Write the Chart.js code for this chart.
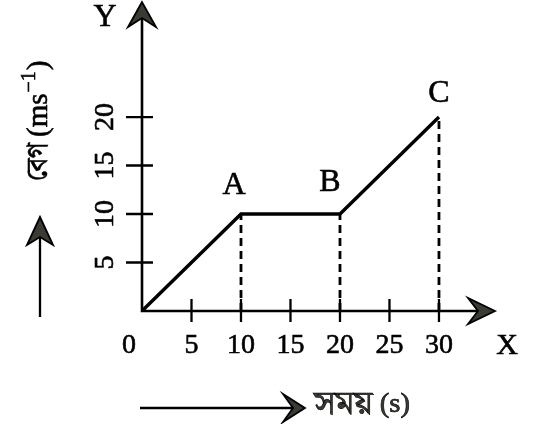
<!DOCTYPE html>
<html>
<head>
<meta charset="utf-8">
<script src="https://cdn.jsdelivr.net/npm/chart.js@4.4.1/dist/chart.umd.min.js"></script>
<style>
html,body{margin:0;padding:0;background:#fff;}
canvas{display:block;}
</style>
</head>
<body>
<canvas id="c" width="547" height="424"></canvas>
<script>
// ---- data ----
const times = [0, 10, 20, 30];
const velocities = [0, 10, 10, 20];
const pointNames = ['', 'A', 'B', 'C'];
const dashedIdx = [1, 2, 3];
const xTickValues = [0, 5, 10, 15, 20, 25, 30];
const yTickValues = [5, 10, 15, 20];
const xAxisName = 'X';
const yAxisName = 'Y';
const yTitleWord = 'বেগ';
const yTitleUnit = ['(ms', '−1', ')'];
const xTitleParts = ['সময়', ' (s)'];

const SERIF = '"Liberation Serif","DejaVu Serif",serif';
const BN = '"Liberation Serif","Noto Serif Bengali","Noto Sans Bengali","Lohit Bengali","FreeSerif",serif';

function arrowHead(ctx, tipX, tipY, dir, len, half, notch) {
  ctx.beginPath();
  if (dir === 'up') {
    ctx.moveTo(tipX, tipY);
    ctx.lineTo(tipX - half, tipY + len);
    ctx.lineTo(tipX, tipY + notch);
    ctx.lineTo(tipX + half, tipY + len);
  } else {
    ctx.moveTo(tipX, tipY);
    ctx.lineTo(tipX - len, tipY - half);
    ctx.lineTo(tipX - notch, tipY);
    ctx.lineTo(tipX - len, tipY + half);
  }
  ctx.closePath();
  ctx.fillStyle = '#3b3b34';
  ctx.fill();
  ctx.lineWidth = 1.8;
  ctx.strokeStyle = '#000';
  ctx.lineJoin = 'miter';
  ctx.stroke();
}

function boldText(ctx, txt, x, y) {
  ctx.fillText(txt, x, y);
  ctx.strokeText(txt, x, y);
}

function twoPart(ctx, parts, x, y, bnSize, latSize) {
  ctx.textAlign = 'left';
  ctx.font = bnSize + 'px ' + BN;
  boldText(ctx, parts[0], x, y);
  const w = ctx.measureText(parts[0]).width;
  ctx.font = latSize + 'px ' + SERIF;
  boldText(ctx, parts[1], x + w, y);
  return w + ctx.measureText(parts[1]).width;
}
function twoPartWidth(ctx, parts, bnSize, latSize) {
  ctx.font = bnSize + 'px ' + BN;
  const w = ctx.measureText(parts[0]).width;
  ctx.font = latSize + 'px ' + SERIF;
  return w + ctx.measureText(parts[1]).width;
}

const decor = {
  id: 'decor',
  beforeDatasetsDraw(chart) {
    const ctx = chart.ctx;
    const xs = chart.scales.x, ys = chart.scales.y;
    const ca = chart.chartArea;
    const x0 = xs.getPixelForValue(0), y0 = ys.getPixelForValue(0);
    ctx.save();
    ctx.strokeStyle = '#000';
    ctx.lineWidth = 2.6;
    ctx.lineCap = 'butt';
    // axes
    ctx.beginPath();
    ctx.moveTo(x0, y0 + 1.3); ctx.lineTo(x0, ca.top + 14);
    ctx.moveTo(x0 - 1.3, y0); ctx.lineTo(ca.right - 14, y0);
    ctx.stroke();
    // ticks
    ctx.lineWidth = 2.3;
    ctx.beginPath();
    yTickValues.forEach(v => {
      const p = ys.getPixelForValue(v);
      ctx.moveTo(x0 - 16, p); ctx.lineTo(x0 + 11, p);
    });
    xTickValues.forEach(v => {
      if (v === 0) return;
      const p = xs.getPixelForValue(v);
      ctx.moveTo(p, y0 - 12); ctx.lineTo(p, y0 + 11);
    });
    ctx.stroke();
    // arrow heads on axes
    arrowHead(ctx, x0, ca.top, 'up', 25, 14, 16);
    arrowHead(ctx, ca.right, y0, 'right', 27, 13, 17);
    // tick labels
    ctx.fillStyle = '#000';
    ctx.strokeStyle = '#000';
    ctx.lineWidth = 0.6;
    ctx.font = '28px ' + SERIF;
    ctx.textAlign = 'center';
    ctx.textBaseline = 'middle';
    xTickValues.forEach(v => {
      let p = xs.getPixelForValue(v);
      if (v === 0) p -= 13;
      boldText(ctx, String(v), p, y0 + 35);
    });
    yTickValues.forEach(v => {
      const p = ys.getPixelForValue(v);
      ctx.save();
      ctx.translate(x0 - 36, p);
      ctx.rotate(-Math.PI / 2);
      boldText(ctx, String(v), 0, 0);
      ctx.restore();
    });
    // axis names
    ctx.font = '32px ' + SERIF;
    boldText(ctx, yAxisName, x0 - 37, ca.top + 16);
    ctx.font = '30px ' + SERIF;
    boldText(ctx, xAxisName, ca.right + 12, y0 + 35);
    // point names
    ctx.font = '32px ' + SERIF;
    const offs = [[0,0],[-7,-28],[-10,-31],[0,-23]];
    times.forEach((t, i) => {
      if (!pointNames[i]) return;
      boldText(ctx, pointNames[i], xs.getPixelForValue(t) + offs[i][0], ys.getPixelForValue(velocities[i]) + offs[i][1]);
    });
    // y title rotated: word from y=180 up to ~143, unit from ~137 up to 57
    ctx.save();
    ctx.translate(47, 181);
    ctx.rotate(-Math.PI / 2);
    ctx.textAlign = 'left';
    ctx.textBaseline = 'alphabetic';
    ctx.font = '31px ' + BN;
    const ww = ctx.measureText(yTitleWord).width;
    ctx.save();
    ctx.scale(38 / ww, 1);
    boldText(ctx, yTitleWord, 0, 0);
    ctx.restore();
    let cx = 44;
    ctx.font = '29px ' + SERIF;
    boldText(ctx, yTitleUnit[0], cx, 0);
    cx += ctx.measureText(yTitleUnit[0]).width + 1;
    ctx.font = '20px ' + SERIF;
    boldText(ctx, yTitleUnit[1], cx, -12);
    cx += ctx.measureText(yTitleUnit[1]).width + 1;
    ctx.font = '29px ' + SERIF;
    boldText(ctx, yTitleUnit[2], cx, 0);
    ctx.restore();
    ctx.textBaseline = 'middle';
    // left vertical arrow
    ctx.lineWidth = 2.3;
    ctx.beginPath();
    ctx.moveTo(40, 317); ctx.lineTo(40, 232);
    ctx.stroke();
    arrowHead(ctx, 40, 217, 'up', 28, 13, 20);
    // bottom arrow
    ctx.lineWidth = 2.3;
    ctx.beginPath();
    ctx.moveTo(140, 408); ctx.lineTo(292, 408);
    ctx.stroke();
    arrowHead(ctx, 305, 408, 'right', 22, 14, 12);
    ctx.lineWidth = 0.6;
    ctx.save();
    ctx.translate(314, 405);
    const wx = twoPartWidth(ctx, xTitleParts, 34, 28);
    ctx.scale(96 / wx, 1);
    twoPart(ctx, xTitleParts, 0, 0, 34, 28);
    ctx.restore();
    ctx.restore();
  }
};

const datasets = [{
  data: times.map((t, i) => ({x: t, y: velocities[i]})),
  showLine: true,
  borderColor: '#000',
  borderWidth: 3.4,
  pointRadius: 0,
  fill: false,
  tension: 0
}];
dashedIdx.forEach(i => {
  datasets.push({
    data: [{x: times[i], y: 0}, {x: times[i], y: velocities[i]}],
    showLine: true,
    borderColor: '#000',
    borderWidth: 2.8,
    borderDash: [8, 5],
    pointRadius: 0,
    fill: false
  });
});

new Chart(document.getElementById('c'), {
  type: 'scatter',
  data: { datasets },
  options: {
    responsive: false,
    animation: false,
    layout: { padding: { left: 142, right: 52, top: 2, bottom: 113 } },
    plugins: { legend: { display: false }, tooltip: { enabled: false } },
    scales: {
      x: { type: 'linear', display: false, min: 0, max: 35.66 },
      y: { type: 'linear', display: false, min: 0, max: 31.86 }
    }
  },
  plugins: [decor]
});
</script>
</body>
</html>
